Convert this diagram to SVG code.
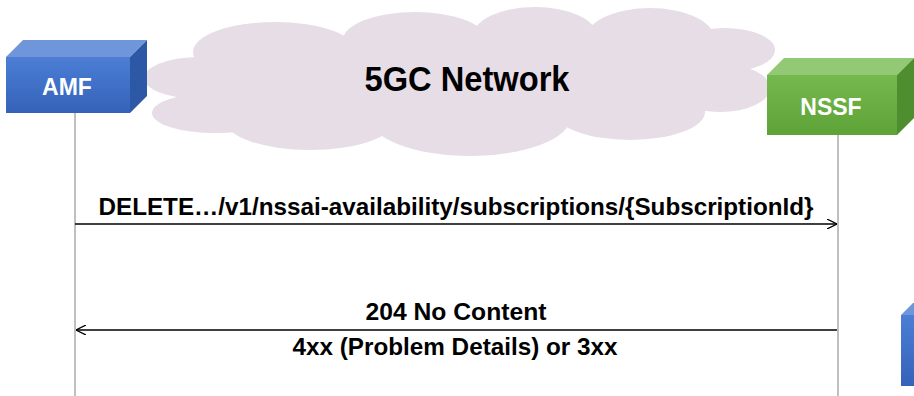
<svg xmlns="http://www.w3.org/2000/svg" width="914" height="396" viewBox="0 0 914 396">
  <defs>
    <linearGradient id="gBlue" x1="0" y1="0" x2="0" y2="1">
      <stop offset="0" stop-color="#4C7ED6"/>
      <stop offset="1" stop-color="#3462B8"/>
    </linearGradient>
    <linearGradient id="gGreen" x1="0" y1="0" x2="0" y2="1">
      <stop offset="0" stop-color="#74B84E"/>
      <stop offset="1" stop-color="#5EA338"/>
    </linearGradient>
    <marker id="arr" viewBox="0 0 10 10" refX="10" refY="5" markerWidth="10" markerHeight="10" markerUnits="userSpaceOnUse" orient="auto">
      <path d="M0,0 L10,5 L0,10" fill="none" stroke="#000" stroke-width="1.3"/>
    </marker>
  </defs>
  <style>
    .cloud { fill: #E6DDE7; }
    .life { stroke: #808080; stroke-width: 1; fill: none; }
    .msg { stroke: #000; stroke-width: 1.5; fill: none; marker-end: url(#arr); }
    .lbl { font-family: "Liberation Sans Narrow", "Liberation Sans", Arial, sans-serif; font-weight: bold; fill: #000; text-anchor: middle; }
    .node { font-family: "Liberation Sans", Arial, sans-serif; font-weight: bold; fill: #FFFFFF; text-anchor: middle; font-size: 23px; }
    .bTop { fill: #6F95DB; }
    .bSide { fill: #2D58A6; }
    .gTop { fill: #93C874; }
    .gSide { fill: #4E8E31; }
  </style>

  <g id="cloud">
    <ellipse class="cloud" cx="200" cy="78" rx="56" ry="21"/>
    <ellipse class="cloud" cx="215" cy="113" rx="63" ry="20"/>
    <ellipse class="cloud" cx="275" cy="52" rx="82" ry="30"/>
    <ellipse class="cloud" cx="415" cy="40" rx="72" ry="28"/>
    <ellipse class="cloud" cx="535" cy="36" rx="62" ry="29"/>
    <ellipse class="cloud" cx="650" cy="40" rx="65" ry="32"/>
    <ellipse class="cloud" cx="725" cy="50" rx="50" ry="22"/>
    <ellipse class="cloud" cx="720" cy="88" rx="50" ry="24"/>
    <ellipse class="cloud" cx="630" cy="112" rx="75" ry="28"/>
    <ellipse class="cloud" cx="470" cy="118" rx="100" ry="38"/>
    <ellipse class="cloud" cx="310" cy="120" rx="85" ry="30"/>
    <ellipse class="cloud" cx="460" cy="80" rx="270" ry="45"/>
    <text class="lbl" x="467" y="91" font-size="35" textLength="205" lengthAdjust="spacingAndGlyphs">5GC Network</text>
  </g>

  <g id="lifelines">
    <line class="life" x1="75" y1="113" x2="75" y2="396"/>
    <line class="life" x1="838" y1="135" x2="838" y2="396"/>
  </g>

  <g id="AMF">
    <polygon class="bTop" points="6,57 23,40 147,40 130,57"/>
    <polygon class="bSide" points="130,57 147,40 147,96 130,113"/>
    <rect x="6" y="57" width="124" height="56" fill="url(#gBlue)"/>
    <text class="node" x="67" y="95">AMF</text>
  </g>

  <g id="NSSF">
    <polygon class="gTop" points="767,75 784,58 914,58 897,75"/>
    <polygon class="gSide" points="897,75 914,58 914,118 897,135"/>
    <rect x="767" y="75" width="130" height="60" fill="url(#gGreen)"/>
    <text class="node" x="831" y="115">NSSF</text>
  </g>

  <g id="partial-node">
    <polygon class="bTop" points="901,315 913,303 914,303 914,315"/>
    <rect x="901" y="315" width="13" height="71" fill="url(#gBlue)"/>
  </g>

  <g id="connectors">
    <line class="msg" x1="75" y1="224" x2="837" y2="224"/>
    <line class="msg" x1="837" y1="330" x2="76" y2="330"/>
  </g>

  <g id="labels">
    <text class="lbl" x="456" y="215" font-size="24" textLength="715" lengthAdjust="spacingAndGlyphs">DELETE…/v1/nssai-availability/subscriptions/{SubscriptionId}</text>
    <text class="lbl" x="456" y="320" font-size="24" textLength="181" lengthAdjust="spacingAndGlyphs">204 No Content</text>
    <text class="lbl" x="455" y="355" font-size="24" textLength="325" lengthAdjust="spacingAndGlyphs">4xx (Problem Details) or 3xx</text>
  </g>
</svg>
